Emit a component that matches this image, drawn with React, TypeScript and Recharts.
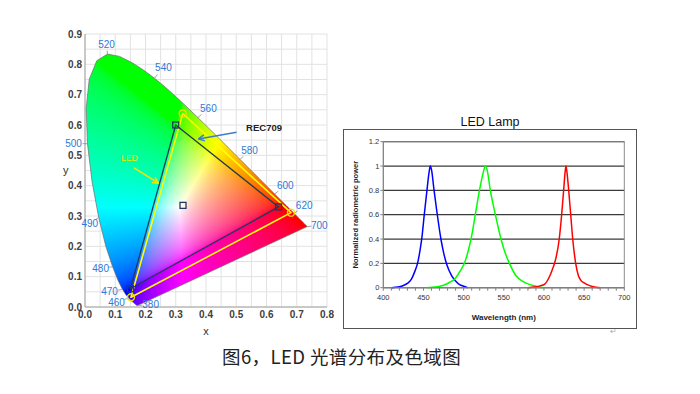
import React from 'react'
import {
  ScatterChart,
  Scatter,
  XAxis,
  YAxis,
  CartesianGrid,
  LineChart,
  Line,
  ReferenceArea,
} from 'recharts'

const FONT = '"Liberation Sans", Arial, sans-serif'

// CIE 1931 spectral locus (chromaticity x, y per wavelength)
const LOCUS_NM = [380, 400, 420, 430, 440, 450, 455, 460, 465, 470, 475, 480, 485, 490, 495, 500, 505, 510, 515, 520, 525, 530, 535, 540, 545, 550, 555, 560, 565, 570, 575, 580, 585, 590, 595, 600, 605, 610, 620, 630, 640, 650, 700]
const LOCUS_X = [0.1741, 0.1733, 0.1714, 0.1689, 0.1644, 0.1566, 0.151, 0.144, 0.1355, 0.1241, 0.1096, 0.0913, 0.0687, 0.0454, 0.0235, 0.0082, 0.0039, 0.0139, 0.0389, 0.0743, 0.1142, 0.1547, 0.1929, 0.2296, 0.2658, 0.3016, 0.3373, 0.3731, 0.4087, 0.4441, 0.4788, 0.5125, 0.5448, 0.5752, 0.6029, 0.627, 0.6482, 0.6658, 0.6915, 0.7079, 0.719, 0.726, 0.7347]
const LOCUS_Y = [0.005, 0.0048, 0.0051, 0.0069, 0.0109, 0.0177, 0.0227, 0.0297, 0.0399, 0.0578, 0.0868, 0.1327, 0.2007, 0.295, 0.4127, 0.5384, 0.6548, 0.7502, 0.812, 0.8338, 0.8262, 0.8059, 0.7816, 0.7543, 0.7243, 0.6923, 0.6589, 0.6245, 0.5896, 0.5547, 0.5202, 0.4866, 0.4544, 0.4242, 0.3965, 0.3725, 0.3514, 0.334, 0.3083, 0.292, 0.2809, 0.274, 0.2653]

const MARKED_NM = [380, 460, 470, 480, 490, 500, 520, 540, 560, 580, 600, 620, 700]

const REC709_X = [0.64, 0.3, 0.15]
const REC709_Y = [0.33, 0.6, 0.06]
const LED_X = [0.681, 0.323, 0.152]
const LED_Y = [0.311, 0.638, 0.032]
const WHITE_X = [0.324]
const WHITE_Y = [0.335]

const REC_NOTE = { x: 0.592, y: 0.592, text: 'REC709' }
const REC_ARROW_X = [0.501, 0.375]
const REC_ARROW_Y = [0.576, 0.554]
const LED_NOTE = { x: 0.147, y: 0.49, text: 'LED' }
const LED_ARROW_X = [0.162, 0.243]
const LED_ARROW_Y = [0.459, 0.408]

const CIE_X_TICKS = [0, 0.05, 0.1, 0.15, 0.2, 0.25, 0.3, 0.35, 0.4, 0.45, 0.5, 0.55, 0.6, 0.65, 0.7, 0.75, 0.8]
const CIE_Y_TICKS = [0, 0.05, 0.1, 0.15, 0.2, 0.25, 0.3, 0.35, 0.4, 0.45, 0.5, 0.55, 0.6, 0.65, 0.7, 0.75, 0.8, 0.85, 0.9]

// LED spectra (normalized radiometric power)
const BLUE_NM = [410, 415, 420, 425, 430, 435, 439, 443, 446, 448, 451, 454.5, 457, 458.5, 460, 463, 467, 472, 475, 479, 485, 490, 495, 500, 505]
const BLUE_V = [0, 0.003, 0.008, 0.018, 0.035, 0.07, 0.13, 0.21, 0.32, 0.41, 0.6, 0.81, 0.95, 1.0, 0.97, 0.81, 0.61, 0.39, 0.29, 0.19, 0.1, 0.055, 0.025, 0.012, 0]
const GREEN_NM = [455, 465, 475, 483, 490, 496, 502, 506, 509.5, 514.5, 520, 524.5, 527, 529.5, 533, 539.5, 546.5, 551, 557, 565, 574, 585, 593, 600]
const GREEN_V = [0, 0.005, 0.02, 0.045, 0.08, 0.14, 0.22, 0.31, 0.41, 0.6, 0.81, 0.95, 1.0, 0.96, 0.81, 0.6, 0.4, 0.3, 0.2, 0.1, 0.05, 0.02, 0.008, 0]
const RED_NM = [580, 588, 595, 601, 607.5, 611, 614, 619, 622, 624.5, 626.3, 627.4, 628.6, 630.8, 633.3, 635.8, 639.5, 642.8, 646, 650, 654, 660, 665, 670]
const RED_V = [0, 0.005, 0.015, 0.03, 0.1, 0.16, 0.22, 0.4, 0.6, 0.8, 0.95, 1.0, 0.95, 0.8, 0.6, 0.4, 0.2, 0.1, 0.06, 0.04, 0.025, 0.01, 0.004, 0]

const SPEC_X_TICKS = [400, 410, 420, 430, 440, 450, 460, 470, 480, 490, 500, 510, 520, 530, 540, 550, 560, 570, 580, 590, 600, 610, 620, 630, 640, 650, 660, 670, 680, 690, 700]
const SPEC_Y_TICKS = [0, 0.2, 0.4, 0.6, 0.8, 1, 1.2]

// label offsets (px) for the wavelength marks
const LABEL_OFFSET: Record<number, [number, number]> = {
  380: [13, -1],
  460: [-12, 4.5],
  470: [-13, 2],
  480: [-12, 1.5],
  490: [-9, 6],
  500: [-14, 0],
  520: [-1, -10],
  540: [9, -10.5],
  560: [10.5, -9],
  580: [9.5, -8.7],
  600: [10.6, -8.3],
  620: [10, -8],
  700: [12, -1],
}

const locusData = LOCUS_NM.map((nm, i) => ({ nm, x: LOCUS_X[i], y: LOCUS_Y[i] }))
const markData = MARKED_NM.map((nm) => {
  const i = LOCUS_NM.indexOf(nm)
  return { nm, x: LOCUS_X[i], y: LOCUS_Y[i] }
})
const recData = REC709_X.map((x, i) => ({ x, y: REC709_Y[i] }))
const ledData = LED_X.map((x, i) => ({ x, y: LED_Y[i] }))
const whiteData = WHITE_X.map((x, i) => ({ x, y: WHITE_Y[i] }))
const recArrow = REC_ARROW_X.map((x, i) => ({ x, y: REC_ARROW_Y[i] }))
const ledArrow = LED_ARROW_X.map((x, i) => ({ x, y: LED_ARROW_Y[i] }))

const blueData = BLUE_NM.map((nm, i) => ({ nm, v: BLUE_V[i] }))
const greenData = GREEN_NM.map((nm, i) => ({ nm, v: GREEN_V[i] }))
const redData = RED_NM.map((nm, i) => ({ nm, v: RED_V[i] }))

function chromaRGB(cx: number, cy: number) {
  const yy = Math.max(cy, 0.002)
  const X = cx / yy
  const Z = (1 - cx - yy) / yy
  const r = Math.max(3.2406 * X - 1.5372 - 0.4986 * Z, 0)
  const g = Math.max(-0.9689 * X + 1.8758 + 0.0415 * Z, 0)
  const b = Math.max(0.0557 * X - 0.204 + 1.057 * Z, 0)
  const m = Math.max(r, g, b, 1e-6)
  const enc = (v: number) => {
    v = v / m
    return v <= 0.0031308 ? 12.92 * v : 1.055 * Math.pow(v, 1 / 2.4) - 0.055
  }
  return [enc(r) * 255, enc(g) * 255, enc(b) * 255]
}

let fillCache: { key: string; url: string } | null = null

function locusImage(x0: number, y0: number, w: number, h: number, ax: number, bx: number, ay: number, by: number) {
  const key = [x0, y0, w, h, ax, ay].map((v) => v.toFixed(2)).join(',')
  if (fillCache && fillCache.key === key) return fillCache.url
  if (typeof document === 'undefined') return ''
  const canvas = document.createElement('canvas')
  canvas.width = w
  canvas.height = h
  const ctx = canvas.getContext('2d')
  if (!ctx) return ''
  const img = ctx.createImageData(w, h)
  for (let j = 0; j < h; j++) {
    for (let i = 0; i < w; i++) {
      const cx = (x0 + i + 0.5 - bx) / ax
      const cy = (y0 + j + 0.5 - by) / ay
      const [r, g, b] = chromaRGB(cx, cy)
      const k = (j * w + i) * 4
      img.data[k] = r
      img.data[k + 1] = g
      img.data[k + 2] = b
      img.data[k + 3] = 255
    }
  }
  ctx.putImageData(img, 0, 0)
  const url = canvas.toDataURL()
  fillCache = { key, url }
  return url
}

const renderLocus = (p: any) => {
  const pts: { x: number; y: number }[] = p.points || []
  if (pts.length < 2) return <g />
  let iMin = 0, iMax = 0, jMin = 0, jMax = 0
  LOCUS_X.forEach((v, i) => {
    if (v < LOCUS_X[iMin]) iMin = i
    if (v > LOCUS_X[iMax]) iMax = i
  })
  LOCUS_Y.forEach((v, i) => {
    if (v < LOCUS_Y[jMin]) jMin = i
    if (v > LOCUS_Y[jMax]) jMax = i
  })
  const ax = (pts[iMax].x - pts[iMin].x) / (LOCUS_X[iMax] - LOCUS_X[iMin])
  const bx = pts[iMin].x - ax * LOCUS_X[iMin]
  const ay = (pts[jMax].y - pts[jMin].y) / (LOCUS_Y[jMax] - LOCUS_Y[jMin])
  const by = pts[jMin].y - ay * LOCUS_Y[jMin]
  const xs = pts.map((q) => q.x)
  const ys = pts.map((q) => q.y)
  const x0 = Math.floor(Math.min(...xs))
  const x1 = Math.ceil(Math.max(...xs))
  const y0 = Math.floor(Math.min(...ys))
  const y1 = Math.ceil(Math.max(...ys))
  const url = locusImage(x0, y0, x1 - x0, y1 - y0, ax, bx, ay, by)
  const poly = pts.map((q) => `${q.x},${q.y}`).join(' ')
  return (
    <g>
      <defs>
        <clipPath id="cie-locus">
          <polygon points={poly} />
        </clipPath>
      </defs>
      <image href={url} x={x0} y={y0} width={x1 - x0} height={y1 - y0} clipPath="url(#cie-locus)" preserveAspectRatio="none" />
      <polygon points={poly} fill="none" stroke="#6b6b6b" strokeWidth={0.7} />
    </g>
  )
}

const polygonLine = (stroke: string, width: number) => (p: any) => {
  const pts: { x: number; y: number }[] = p.points || []
  return (
    <polygon
      points={pts.map((q) => `${q.x},${q.y}`).join(' ')}
      fill="none"
      stroke={stroke}
      strokeWidth={width}
      strokeLinejoin="round"
    />
  )
}

const arrowLine = (color: string, id: string) => (p: any) => {
  const pts: { x: number; y: number }[] = p.points || []
  if (pts.length < 2) return <g />
  return (
    <g>
      <defs>
        <marker id={id} viewBox="0 0 10 10" refX="9" refY="5" markerWidth="5" markerHeight="5" orient="auto">
          <path d="M1,1 L9,5 L1,9" fill="none" stroke={color} strokeWidth={2} />
        </marker>
      </defs>
      <line x1={pts[0].x} y1={pts[0].y} x2={pts[1].x} y2={pts[1].y} stroke={color} strokeWidth={1.5} markerEnd={`url(#${id})`} />
    </g>
  )
}

const noShape = () => <g />

const markShape = (p: any) => {
  const { cx, cy, payload } = p
  const [dx, dy] = LABEL_OFFSET[payload.nm] || [0, 0]
  return (
    <g>
      <line x1={cx} y1={cy} x2={cx + dx * 0.35} y2={cy + dy * 0.35} stroke="#8a8a8a" strokeWidth={0.8} />
      <text x={cx + dx} y={cy + dy} textAnchor="middle" dominantBaseline="central" fontSize={10} fill="#2f78d6" fontFamily={FONT}>
        {payload.nm}
      </text>
    </g>
  )
}

const squareShape = (fill: string) => (p: any) => (
  <rect x={p.cx - 3} y={p.cy - 3} width={6} height={6} fill={fill} stroke="#1f3a5f" strokeWidth={1.3} />
)

const circleShape = (p: any) => (
  <circle cx={p.cx} cy={p.cy} r={3.5} fill="none" stroke="#f0e000" strokeWidth={1.4} />
)

const noteShape = (color: string, size: number, weight: string) => (p: any) => (
  <text x={p.cx} y={p.cy} textAnchor="middle" dominantBaseline="central" fontSize={size} fontWeight={weight} fill={color} fontFamily={FONT}>
    {p.payload.text}
  </text>
)

const fmtCie = (v: number) => (Math.round(v * 100) % 10 === 0 ? v.toFixed(1) : '')
const fmtNm = (v: number) => (v % 50 === 0 ? String(v) : '')

function CieChart() {
  return (
    <ScatterChart width={345} height={340} margin={{ top: 34, right: 18, bottom: 5, left: 55 }}>
      <CartesianGrid stroke="#e2e2e2" strokeWidth={1} />
      <XAxis
        type="number"
        dataKey="x"
        domain={[0, 0.8]}
        ticks={CIE_X_TICKS}
        tickFormatter={fmtCie}
        interval={0}
        height={28}
        tickLine={false}
        tickSize={1}
        tickMargin={3}
        axisLine={{ stroke: '#a0a0a0' }}
        tick={{ fontSize: 10, fill: '#404040', fontWeight: 'bold', fontFamily: FONT }}
        label={{ value: 'x', position: 'insideBottom', offset: 0, fontSize: 11, fill: '#333', fontFamily: FONT }}
      />
      <YAxis
        type="number"
        dataKey="y"
        domain={[0, 0.9]}
        ticks={CIE_Y_TICKS}
        tickFormatter={fmtCie}
        interval={0}
        width={30}
        tickLine={false}
        tickSize={1}
        tickMargin={2}
        axisLine={{ stroke: '#a0a0a0' }}
        tick={{ fontSize: 10, fill: '#404040', fontWeight: 'bold', fontFamily: FONT }}
        label={{ value: 'y', position: 'insideLeft', offset: 8, fontSize: 11, fill: '#333', fontFamily: FONT }}
      />
      <Scatter data={locusData} line={renderLocus} shape={noShape} isAnimationActive={false} />
      <Scatter data={markData} shape={markShape} isAnimationActive={false} />
      <Scatter data={ledData} line={polygonLine('#ffff00', 1.6)} shape={noShape} isAnimationActive={false} />
      <Scatter data={recData} line={polygonLine('#1f3a5f', 1.3)} shape={squareShape('none')} isAnimationActive={false} />
      <Scatter data={ledData} shape={circleShape} isAnimationActive={false} />
      <Scatter data={whiteData} shape={squareShape('rgba(255,255,255,0.4)')} isAnimationActive={false} />
      <Scatter data={recArrow} line={arrowLine('#3f7cc8', 'arrow-rec')} shape={noShape} isAnimationActive={false} />
      <Scatter data={ledArrow} line={arrowLine('#f5e400', 'arrow-led')} shape={noShape} isAnimationActive={false} />
      <Scatter data={[REC_NOTE]} shape={noteShape('#222', 9.5, 'bold')} isAnimationActive={false} />
      <Scatter data={[LED_NOTE]} shape={noteShape('#f5e400', 8.5, 'normal')} isAnimationActive={false} />
    </ScatterChart>
  )
}

function SpectrumChart() {
  return (
    <LineChart width={292} height={198} margin={{ top: 11.7, right: 11.7, bottom: 4, left: 9.3 }}>
      <CartesianGrid vertical={false} stroke="#3a3a3a" strokeWidth={1.2} />
      <XAxis
        type="number"
        dataKey="nm"
        domain={[400, 700]}
        ticks={SPEC_X_TICKS}
        tickFormatter={fmtNm}
        interval={0}
        height={36.3}
        tickSize={3}
        tickMargin={4}
        axisLine={{ stroke: '#808080' }}
        tickLine={{ stroke: '#808080' }}
        tick={{ fontSize: 7.5, fill: '#333', fontFamily: FONT }}
        label={{ value: 'Wavelength (nm)', position: 'insideBottom', offset: 4, fontSize: 8, fontWeight: 'bold', fill: '#222', fontFamily: FONT }}
      />
      <YAxis
        type="number"
        domain={[0, 1.2]}
        ticks={SPEC_Y_TICKS}
        interval={0}
        width={30}
        tickSize={3}
        tickMargin={1}
        axisLine={{ stroke: '#808080' }}
        tickLine={{ stroke: '#808080' }}
        tick={{ fontSize: 7.5, fill: '#333', fontFamily: FONT }}
        label={{ value: 'Normalized radiometric power', angle: -90, position: 'insideLeft', offset: 2, textAnchor: 'middle', fontSize: 7.5, fontWeight: 'bold', fill: '#222', fontFamily: FONT }}
      />
      <ReferenceArea x1={400} x2={700} y1={0} y2={1.2} fill="none" stroke="#8c8c8c" strokeWidth={1} />
      <Line data={blueData} dataKey="v" type="monotone" stroke="#0000ff" strokeWidth={1.5} dot={false} isAnimationActive={false} />
      <Line data={greenData} dataKey="v" type="monotone" stroke="#00ff00" strokeWidth={1.5} dot={false} isAnimationActive={false} />
      <Line data={redData} dataKey="v" type="monotone" stroke="#ff0000" strokeWidth={1.5} dot={false} isAnimationActive={false} />
    </LineChart>
  )
}

export default function App() {
  return (
    <div style={{ position: 'absolute', left: 0, top: 0, width: 700, height: 394, background: '#fff', fontFamily: FONT, overflow: 'hidden' }}>
      <div style={{ position: 'absolute', left: 0, top: 0 }}>
        <CieChart />
      </div>
      <div style={{ position: 'absolute', left: 344, top: 114, width: 292, textAlign: 'center', fontSize: 12.5, lineHeight: '16px', color: '#111' }}>
        LED Lamp
      </div>
      <div style={{ position: 'absolute', left: 343, top: 129, width: 294, height: 200, boxSizing: 'border-box', border: '1px solid #555' }} />
      <div style={{ position: 'absolute', left: 344, top: 130 }}>
        <SpectrumChart />
      </div>
      <div style={{ position: 'absolute', left: 610, top: 327, fontSize: 8, color: '#aaa' }}>↵</div>
      <div style={{ position: 'absolute', left: 222, top: 345, fontSize: 18.5, lineHeight: '23px', color: '#222', fontFamily: '"Noto Sans CJK SC", sans-serif', whiteSpace: 'nowrap', letterSpacing: 0.4 }}>
        图6，LED 光谱分布及色域图
      </div>
    </div>
  )
}
